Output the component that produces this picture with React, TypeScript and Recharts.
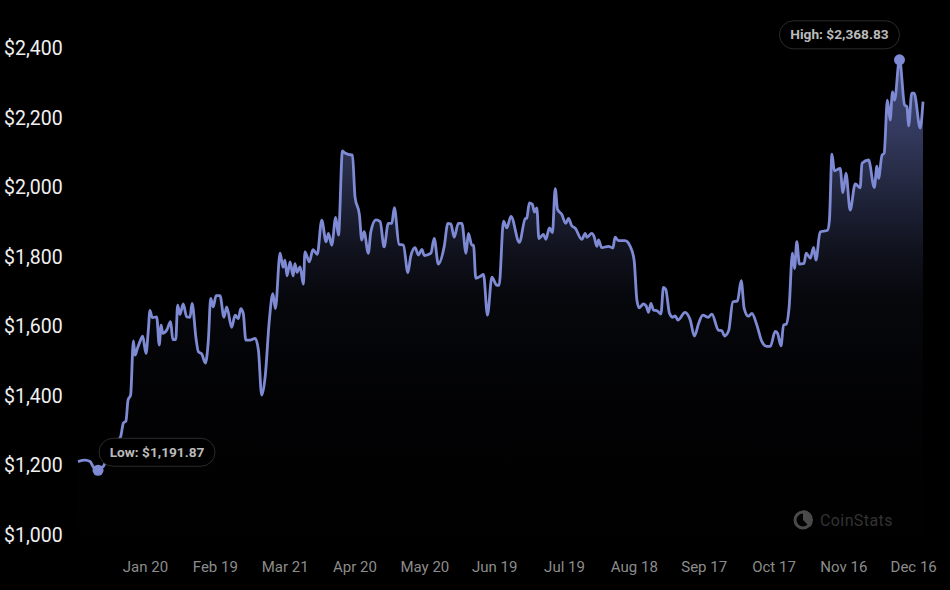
import { AreaChart, Area, XAxis, YAxis, ReferenceDot } from "recharts";

// days since the first point, and the price at that day
const days = [
  0, 3, 5.2, 6.9, 8.6, 10.7, 12.9, 15, 17.2, 18.3, 19.5, 20.6, 21.5, 22.6, 23.8, 24.5, 25.5, 26.6, 27.8, 29.2,
  30.2, 30.9, 31.9, 33.8, 34.9, 35.7, 36.4, 38.1, 39.8, 40.7, 42, 42.8, 43.8, 45.2, 46.7, 48.1, 49, 50.7, 51.7, 53.2,
  54.7, 56, 57, 58.1, 59.3, 61, 62.7, 63.9, 66, 67.5, 68.9, 69.9, 71, 72.1, 73.9, 76.1, 77.5, 78.9, 80.4, 82.2,
  83.7, 84.8, 86.8, 88.1, 88.9, 89.8, 91.1, 92.4, 93.2, 94.1, 95.4, 96.8, 97.5, 99.4, 100.9, 102.8, 104.7, 106.6, 107.6, 109,
  110.7, 111.9, 113.6, 114.7, 116.2, 117.9, 119, 120.9, 121.9, 122.9, 124.7, 125.8, 128, 129.8, 131.5, 133.3, 134.8, 135.9, 137.9, 139.8,
  141.7, 142.9, 144.8, 146.2, 147.7, 148.8, 151.6, 153, 154.8, 157.3, 158.9, 160.2, 161.6, 163.4, 164.9, 166.7, 167.7, 169.2, 169.9, 170.9,
  172.7, 174.2, 175.9, 177.8, 179.9, 180.9, 182.8, 184.2, 186, 189.6, 192.1, 192.8, 193.9, 195.2, 196.1, 197.1, 198, 199.9, 201, 202.5,
  203.8, 205, 206, 207.8, 209.5, 210.7, 212.1, 213.6, 216.4, 217.9, 218.6, 220.7, 221.7, 222.9, 223.6, 225, 227.9, 229.8, 230.7, 232.2,
  235, 237.2, 238.9, 240.1, 241.1, 242.9, 244.1, 245.1, 246.1, 247.2, 248.9, 250.4, 251.5, 252.5, 254.1, 255.5, 256.5, 257.7, 260.8, 263,
  264.8, 266.6, 268.4, 270.8, 272.3, 275.1, 276.6, 277.7, 279.5, 281.3, 283.3, 284.9, 286.2, 288, 289.5, 291.6, 293.8, 295.9, 297.4, 299.5,
  300.5, 302, 303.1, 304.2, 305.5, 306.9, 307.8, 308.8, 309.9, 311.9, 312.8, 314.6, 316, 317, 318.8, 322, 322.8, 323.9, 324.9, 327.4,
  328.6, 329.9, 331.7, 333.9, 336, 336.8, 339.6, 342.1, 343.2, 343.9, 345.4, 346.3, 347.7, 348.9, 349.9, 350.8, 352.9, 355.1, 356.1, 356.8,
  358.2, 359.2, 361.8, 363,
];

const prices = [
  1211, 1215, 1211, 1193, 1191.87, 1196, 1230, 1259, 1273, 1282, 1322, 1328, 1388, 1402, 1558, 1517, 1536, 1556, 1572, 1522,
  1588, 1646, 1625, 1627, 1546, 1603, 1580, 1589, 1613, 1562, 1562, 1661, 1634, 1664, 1627, 1626, 1666, 1565, 1527, 1520,
  1494, 1560, 1680, 1656, 1688, 1688, 1626, 1656, 1597, 1632, 1622, 1651, 1637, 1560, 1560, 1565, 1532, 1402, 1455, 1618,
  1694, 1651, 1810, 1770, 1790, 1745, 1785, 1745, 1780, 1755, 1771, 1721, 1814, 1785, 1820, 1807, 1905, 1843, 1867, 1833,
  1913, 1862, 2104, 2098, 2094, 2092, 1972, 1920, 1848, 1872, 1810, 1872, 1906, 1901, 1828, 1896, 1896, 1941, 1836, 1833,
  1754, 1800, 1826, 1805, 1821, 1803, 1810, 1853, 1779, 1829, 1896, 1894, 1856, 1896, 1896, 1810, 1867, 1833, 1833, 1738,
  1743, 1749, 1632, 1741, 1718, 1718, 1902, 1883, 1916, 1841, 1909, 1911, 1955, 1950, 1928, 1940, 1852, 1864, 1850, 1883,
  1869, 1996, 1936, 1922, 1896, 1910, 1889, 1882, 1850, 1867, 1856, 1867, 1858, 1830, 1848, 1826, 1830, 1825, 1856, 1846,
  1846, 1830, 1790, 1675, 1653, 1664, 1658, 1640, 1666, 1647, 1644, 1635, 1712, 1706, 1637, 1626, 1630, 1618, 1640, 1618,
  1572, 1608, 1632, 1626, 1635, 1589, 1587, 1572, 1587, 1670, 1673, 1731, 1651, 1629, 1637, 1604, 1556, 1542, 1542, 1585,
  1580, 1544, 1604, 1606, 1656, 1810, 1766, 1843, 1779, 1781, 1810, 1796, 1827, 1790, 1871, 1876, 1905, 2095, 2047, 2054,
  1984, 2040, 1934, 2009, 1998, 2069, 2078, 1999, 2060, 2025, 2092, 2097, 2250, 2193, 2274, 2250, 2368.83, 2236, 2231, 2176,
  2270, 2270, 2170, 2246,
];

const xTicks = [29, 59, 89, 119, 149, 179, 209, 239, 269, 299, 329, 359];
const xLabels = ["Jan 20", "Feb 19", "Mar 21", "Apr 20", "May 20", "Jun 19", "Jul 19", "Aug 18", "Sep 17", "Oct 17", "Nov 16", "Dec 16"];
const yTicks = [1000, 1200, 1400, 1600, 1800, 2000, 2200, 2400];

const low = { day: 8.6, price: 1191.87 };
const high = { day: 352.9, price: 2368.83 };

const chartData = days.map((day, i) => ({ day, price: prices[i] }));
const money = (v: number) => "$" + v.toLocaleString("en-US");
const FONT = "Roboto, sans-serif";
const LINE = "#7e8bd4";

function YTick({ y, payload }: any) {
  return (
    <text x={4} y={y} dy={7} textAnchor="start" fill="#f0f0f0" fontSize={19.5} fontFamily={FONT}>
      {money(payload.value)}
    </text>
  );
}

// the dot plus its rounded caption, offset from the dot
function Marker({ cx, cy, text, dx, dy, w, dotDy }: any) {
  return (
    <g>
      <circle cx={cx} cy={cy + dotDy} r={5.5} fill={LINE} />
      <rect x={cx + dx - w / 2} y={cy + dy - 14} width={w} height={28} rx={14} fill="#000" stroke="#2b2b2b" />
      <text x={cx + dx} y={cy + dy} dy={4.5} textAnchor="middle" fill="#bbbbbb" fontSize={13.7} fontWeight={700} fontFamily={FONT}>
        {text}
      </text>
    </g>
  );
}

function Watermark() {
  return (
    <svg width={110} height={30} style={{ position: "absolute", left: 790, top: 505 }}>
      <circle cx={13} cy={15} r={8} fill="none" stroke="#4a4a4a" strokeWidth={3} />
      <path d="M13 5 A10 10 0 0 1 23 15 A10 10 0 0 1 20 22 L13 15 Z" fill="#4a4a4a" />
      <text x={30} y={21} fill="#333" fontSize={16} letterSpacing={0.4} fontFamily={FONT}>
        CoinStats
      </text>
    </svg>
  );
}

export default function App() {
  return (
    <div style={{ position: "absolute", left: 0, top: 0, width: 950, height: 590, background: "#000", overflow: "hidden" }}>
      <AreaChart width={950} height={590} data={chartData} margin={{ top: 48, right: 27, bottom: 25, left: 0 }}>
        <defs>
          <linearGradient id="priceFill" x1="0" y1="0" x2="0" y2="1">
            <stop offset="0%" stopColor="#6c79c4" stopOpacity={1} />
            <stop offset="15%" stopColor="#6c79c4" stopOpacity={0.8} />
            <stop offset="40%" stopColor="#6c79c4" stopOpacity={0.25} />
            <stop offset="50%" stopColor="#6c79c4" stopOpacity={0.11} />
            <stop offset="70%" stopColor="#6c79c4" stopOpacity={0.035} />
            <stop offset="100%" stopColor="#6c79c4" stopOpacity={0.01} />
          </linearGradient>
        </defs>
        <XAxis
          dataKey="day"
          type="number"
          domain={[0, 363]}
          ticks={xTicks}
          interval={0}
          height={30}
          axisLine={false}
          tickLine={false}
          tickMargin={20}
          tickFormatter={(v: number) => xLabels[xTicks.indexOf(v)]}
          tick={{ fill: "#8c8c8c", fontSize: 15, fontFamily: FONT }}
        />
        <YAxis
          type="number"
          domain={[1000, 2400]}
          ticks={yTicks}
          interval={0}
          width={78}
          axisLine={false}
          tickLine={false}
          tick={YTick}
        />
        <Area
          type="monotone"
          dataKey="price"
          stroke={LINE}
          strokeWidth={2.8}
          fill="url(#priceFill)"
          dot={false}
          activeDot={false}
          isAnimationActive={false}
        />
        <ReferenceDot
          x={low.day}
          y={low.price}
          shape={(p: any) => <Marker {...p} text={"Low: $1,191.87"} dx={59} dy={-16} w={116} dotDy={2} />}
        />
        <ReferenceDot
          x={high.day}
          y={high.price}
          shape={(p: any) => <Marker {...p} text={"High: $2,368.83"} dx={-60} dy={-24} w={120} dotDy={1} />}
        />
      </AreaChart>
      <Watermark />
    </div>
  );
}
